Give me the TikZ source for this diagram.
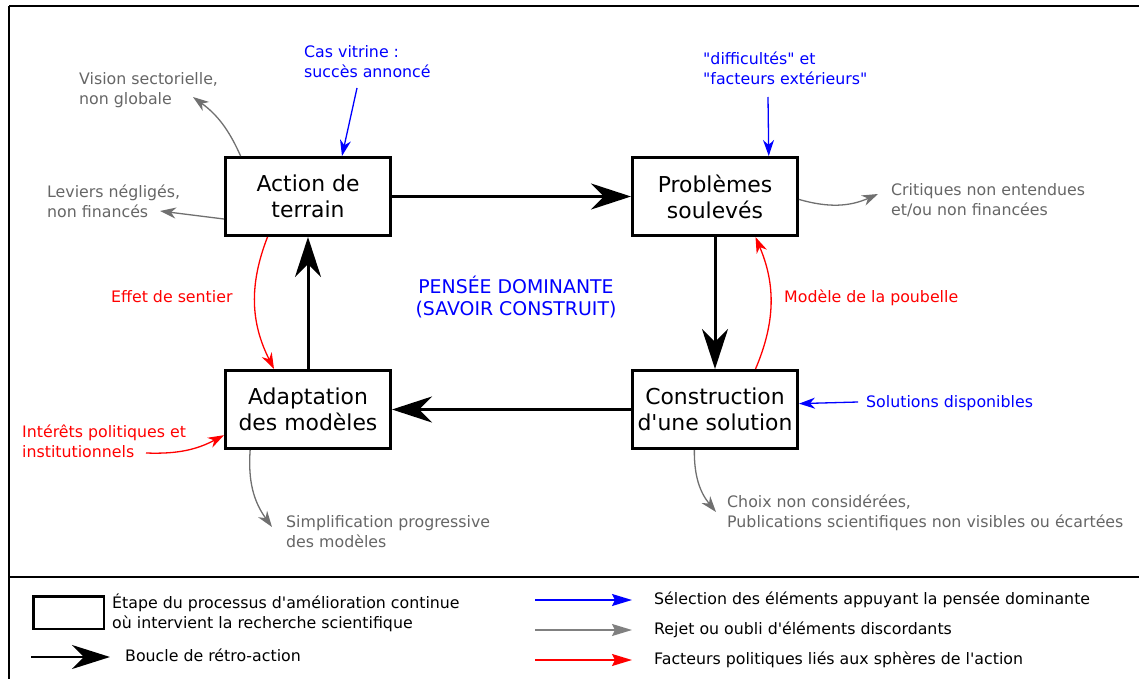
\documentclass[tikz,border=0pt]{standalone}
\usepackage{fontspec}
\setmainfont{DejaVu Sans}[Ligatures=TeXOff]
\usetikzlibrary{arrows.meta}
\definecolor{gristexte}{RGB}{102,102,102}
\definecolor{grisfleche}{RGB}{112,112,112}
\definecolor{grislegende}{RGB}{128,128,128}
\begin{document}
\begin{tikzpicture}[x=1pt,y=-1pt,
		etape/.style={draw,line width=3pt,minimum width=165pt,minimum height=78pt,inner sep=0pt,align=center,font=\fontsize{21.9}{26}\selectfont},
		boucle/.style={line width=3pt,-{Stealth[length=40pt,width=26pt,inset=13pt]}},
		note/.style={anchor=west,inner sep=0pt,align=left,font=\fontsize{15.8}{19.8}\selectfont},
		fleche/.style={line width=1.3pt,-{Stealth[length=16pt,width=11pt,inset=5pt]}},
		legfleche/.style={line width=1.5pt,-{Stealth[length=20pt,width=12pt,inset=3pt]}}]
	\useasboundingbox (0,0) rectangle (1139,679);
	\draw[line width=2pt] (9,6) -- (1139,6);
	\draw[line width=1.5pt] (9,6) -- (9,679);
	\draw[line width=1.5pt] (9,577) -- (1139,577);
	\node[etape] (action) at (308,196.5) {Action de\\terrain};
	\node[etape] (probl) at (715,196.5) {Problèmes\\soulevés};
	\node[etape] (adapt) at (308,409.5) {Adaptation\\des modèles};
	\node[etape] (constr) at (715,409.5) {Construction\\d'une solution};
	\draw[boucle] (action) -- (probl);
	\draw[boucle] (probl) -- (constr);
	\draw[boucle] (constr) -- (adapt);
	\draw[boucle] (adapt) -- (action);
	\node[align=center,text=blue,font=\fontsize{18.9}{22}\selectfont] (pensee) at (516,297) {PENSÉE DOMINANTE\\(SAVOIR CONSTRUIT)};
	\node[note,text=blue] (vitrine) at (304,61.5) {Cas vitrine :\\succès annoncé};
	\node[note,text=gristexte] (vision) at (79,90) {Vision sectorielle,\\non globale};
	\node[note,text=gristexte] (leviers) at (47,201.5) {Leviers négligés,\\non financés};
	\node[note,text=blue] (difficultes) at (703,68.5) {"difficultés" et\\"facteurs extérieurs"};
	\node[note,text=gristexte] (critiques) at (891,200) {Critiques non entendues\\et/ou non financées};
	\node[note,text=red] (sentier) at (111,297) {Effet de sentier};
	\node[note,text=red] (poubelle) at (784,298) {Modèle de la poubelle};
	\node[note,text=red] (interets) at (22,441.5) {Intérêts politiques et\\institutionnels};
	\node[note,text=gristexte] (simplif) at (286,532) {Simplification progressive\\des modèles};
	\node[note,text=blue] (solutions) at (866,403) {Solutions disponibles};
	\node[note,text=gristexte] (choix) at (727,513) {Choix non considérées,\\Publications scientifiques non visibles ou écartées};
	\coordinate (vitrine-a) at (357,88);
	\coordinate (vision-a) at (193,97);
	\coordinate (leviers-a) at (160,211);
	\coordinate (difficultes-a) at (768,97);
	\coordinate (critiques-a) at (878,194);
	\coordinate (interets-a) at (146,453);
	\coordinate (simplif-a) at (272,527);
	\coordinate (solutions-a) at (858,402);
	\coordinate (choix-a) at (716,512);
	\draw[fleche,blue] (vitrine-a) -- (action.50);
	\draw[fleche,grisfleche] (action.149) to[bend right=15] (vision-a);
	\draw[fleche,grisfleche] (action.195) -- (leviers-a);
	\draw[fleche,blue] (difficultes-a) -- (probl.37);
	\draw[fleche,grisfleche] (probl.-2) to[bend right=20] (critiques-a);
	\draw[fleche,red] (action.225) to[bend right=24] (adapt.130);
	\draw[fleche,red] (constr.45) to[bend right=23] (probl.-45);
	\draw[fleche,red] (interets-a) to[bend right=15] (adapt.197);
	\draw[fleche,grisfleche] (adapt.215) to[bend right=20] (simplif-a);
	\draw[fleche,blue] (solutions-a) -- (constr.4);
	\draw[fleche,grisfleche] (constr.243) to[bend right=20] (choix-a);
	\node[draw,line width=2.5pt,minimum width=70.5pt,minimum height=32.5pt] (leg-etape) at (68.5,612.5) {};
	\node[note] (leg-etape-t) at (112,613) {Étape du processus d'amélioration continue\\où intervient la recherche scientifique};
	\coordinate (leg-boucle-a) at (31,657);
	\coordinate (leg-boucle-b) at (110,657);
	\draw[line width=2.5pt,-{Stealth[length=38pt,width=24pt,inset=12pt]}] (leg-boucle-a) -- (leg-boucle-b);
	\node[note] (leg-boucle-t) at (125,655) {Boucle de rétro-action};
	\coordinate (leg-bleu-a) at (535,600);
	\coordinate (leg-bleu-b) at (632,600);
	\coordinate (leg-gris-a) at (535,630);
	\coordinate (leg-gris-b) at (632,630);
	\coordinate (leg-rouge-a) at (535,660);
	\coordinate (leg-rouge-b) at (632,660);
	\draw[legfleche,blue] (leg-bleu-a) -- (leg-bleu-b);
	\draw[legfleche,grislegende] (leg-gris-a) -- (leg-gris-b);
	\draw[legfleche,red] (leg-rouge-a) -- (leg-rouge-b);
	\node[note] (leg-bleu-t) at (654,600) {Sélection des éléments appuyant la pensée dominante};
	\node[note] (leg-gris-t) at (654,630) {Rejet ou oubli d'éléments discordants};
	\node[note] (leg-rouge-t) at (654,660) {Facteurs politiques liés aux sphères de l'action};
\end{tikzpicture}
\end{document}
